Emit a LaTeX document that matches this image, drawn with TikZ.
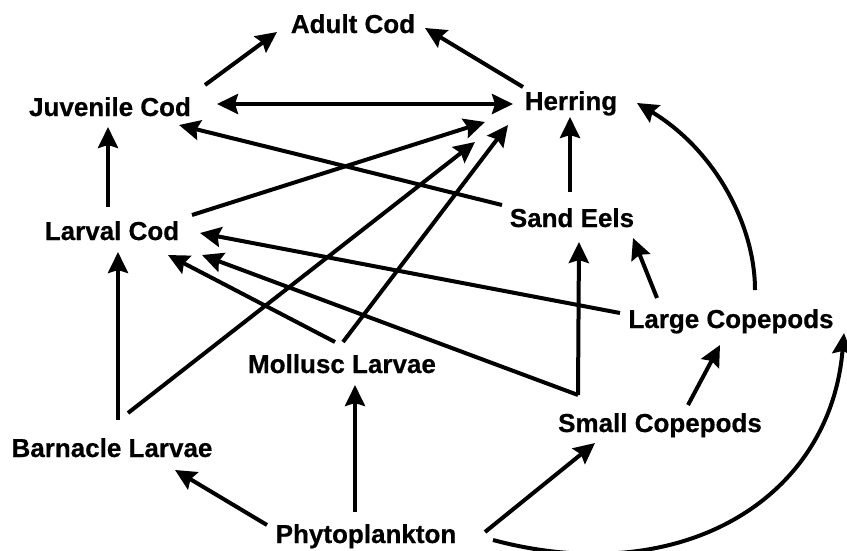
\documentclass[tikz,border=0pt]{standalone}
\usepackage{fontspec}
\setmainfont{Liberation Sans}[BoldFeatures={FakeBold=0.6}]
\usetikzlibrary{arrows.meta}
\begin{document}
\begin{tikzpicture}[x=1pt,y=-1pt,
  >={Stealth[length=21pt,width=20pt,inset=3pt]},
  species/.style={font=\fontsize{26}{30}\selectfont\bfseries, inner sep=0pt, anchor=base},
  feeds/.style={line width=4pt, ->},
  mutual/.style={line width=4pt, <->}]
\useasboundingbox (0,0) rectangle (847,550);

% species (positioned by baseline)
\node[species] (ac) at (353,33)  {Adult Cod};
\node[species] (jc) at (110,116) {Juvenile Cod};
\node[species] (he) at (571,110) {Herring};
\node[species] (lc) at (112,240) {Larval Cod};
\node[species] (se) at (572,227) {Sand Eels};
\node[species] (lg) at (731,328) {Large Copepods};
\node[species] (ml) at (342,373) {Mollusc Larvae};
\node[species] (sc) at (660,432) {Small Copepods};
\node[species] (bl) at (112,457) {Barnacle Larvae};
\node[species] (ph) at (366,543) {Phytoplankton};

% cod
\draw[feeds] ([shift={(-148,52)}]ac.base) -- ([shift={(-76,-1)}]ac.base);
\draw[feeds] ([shift={(-48,-23)}]he.base) -- ([shift={(72,-5)}]ac.base);
\draw[mutual] ([shift={(107,-12)}]jc.base) -- ([shift={(-58,-6)}]he.base);
\draw[feeds] ([shift={(-4,-33)}]lc.base) -- ([shift={(-2,11)}]jc.base);
\draw[feeds] ([shift={(-70,-22)}]se.base) -- ([shift={(69,9)}]jc.base);

% into herring
\draw[feeds] ([shift={(80,-25)}]lc.base) -- ([shift={(-86,12)}]he.base);
\draw[feeds] ([shift={(16,-44)}]bl.base) -- ([shift={(-96,32)}]he.base);
\draw[feeds] ([shift={(1,-31)}]ml.base) -- ([shift={(-63,15)}]he.base);
\draw[feeds] ([shift={(-2,-35)}]se.base) -- ([shift={(-1,7)}]he.base);
\draw[feeds] ([shift={(24,-38)}]lg.base) .. controls ([shift={(24,-103)}]lg.base) and ([shift={(-16,-178)}]lg.base) .. ([shift={(66,-7)}]he.base);

% into larval cod
\draw[feeds] ([shift={(-111,-15)}]lg.base) -- ([shift={(88,-7)}]lc.base);
\draw[feeds] ([shift={(-82,-37)}]sc.base) -- ([shift={(90,15)}]lc.base);
\draw[feeds] ([shift={(-7,-31)}]ml.base) -- ([shift={(56,15)}]lc.base);
\draw[feeds] ([shift={(6,-37)}]bl.base) -- ([shift={(6,12)}]lc.base);

% copepods and sand eels
\draw[feeds] ([shift={(-82,-37)}]sc.base) -- ([shift={(7,15)}]se.base);
\draw[feeds] ([shift={(-74,-30)}]lg.base) -- ([shift={(61,11)}]se.base);
\draw[feeds] ([shift={(28,-27)}]sc.base) -- ([shift={(-11,17)}]lg.base);

% from phytoplankton
\draw[feeds] ([shift={(-99,-18)}]ph.base) -- ([shift={(63,13)}]bl.base);
\draw[feeds] ([shift={(-11,-31)}]ph.base) -- ([shift={(13,12)}]ml.base);
\draw[feeds] ([shift={(119,-11)}]ph.base) -- ([shift={(-65,11)}]sc.base);
\draw[feeds] ([shift={(127,-3)}]ph.base) .. controls ([shift={(314,47)}]ph.base) and ([shift={(464,-43)}]ph.base) .. ([shift={(113,5)}]lg.base);
\end{tikzpicture}
\end{document}
